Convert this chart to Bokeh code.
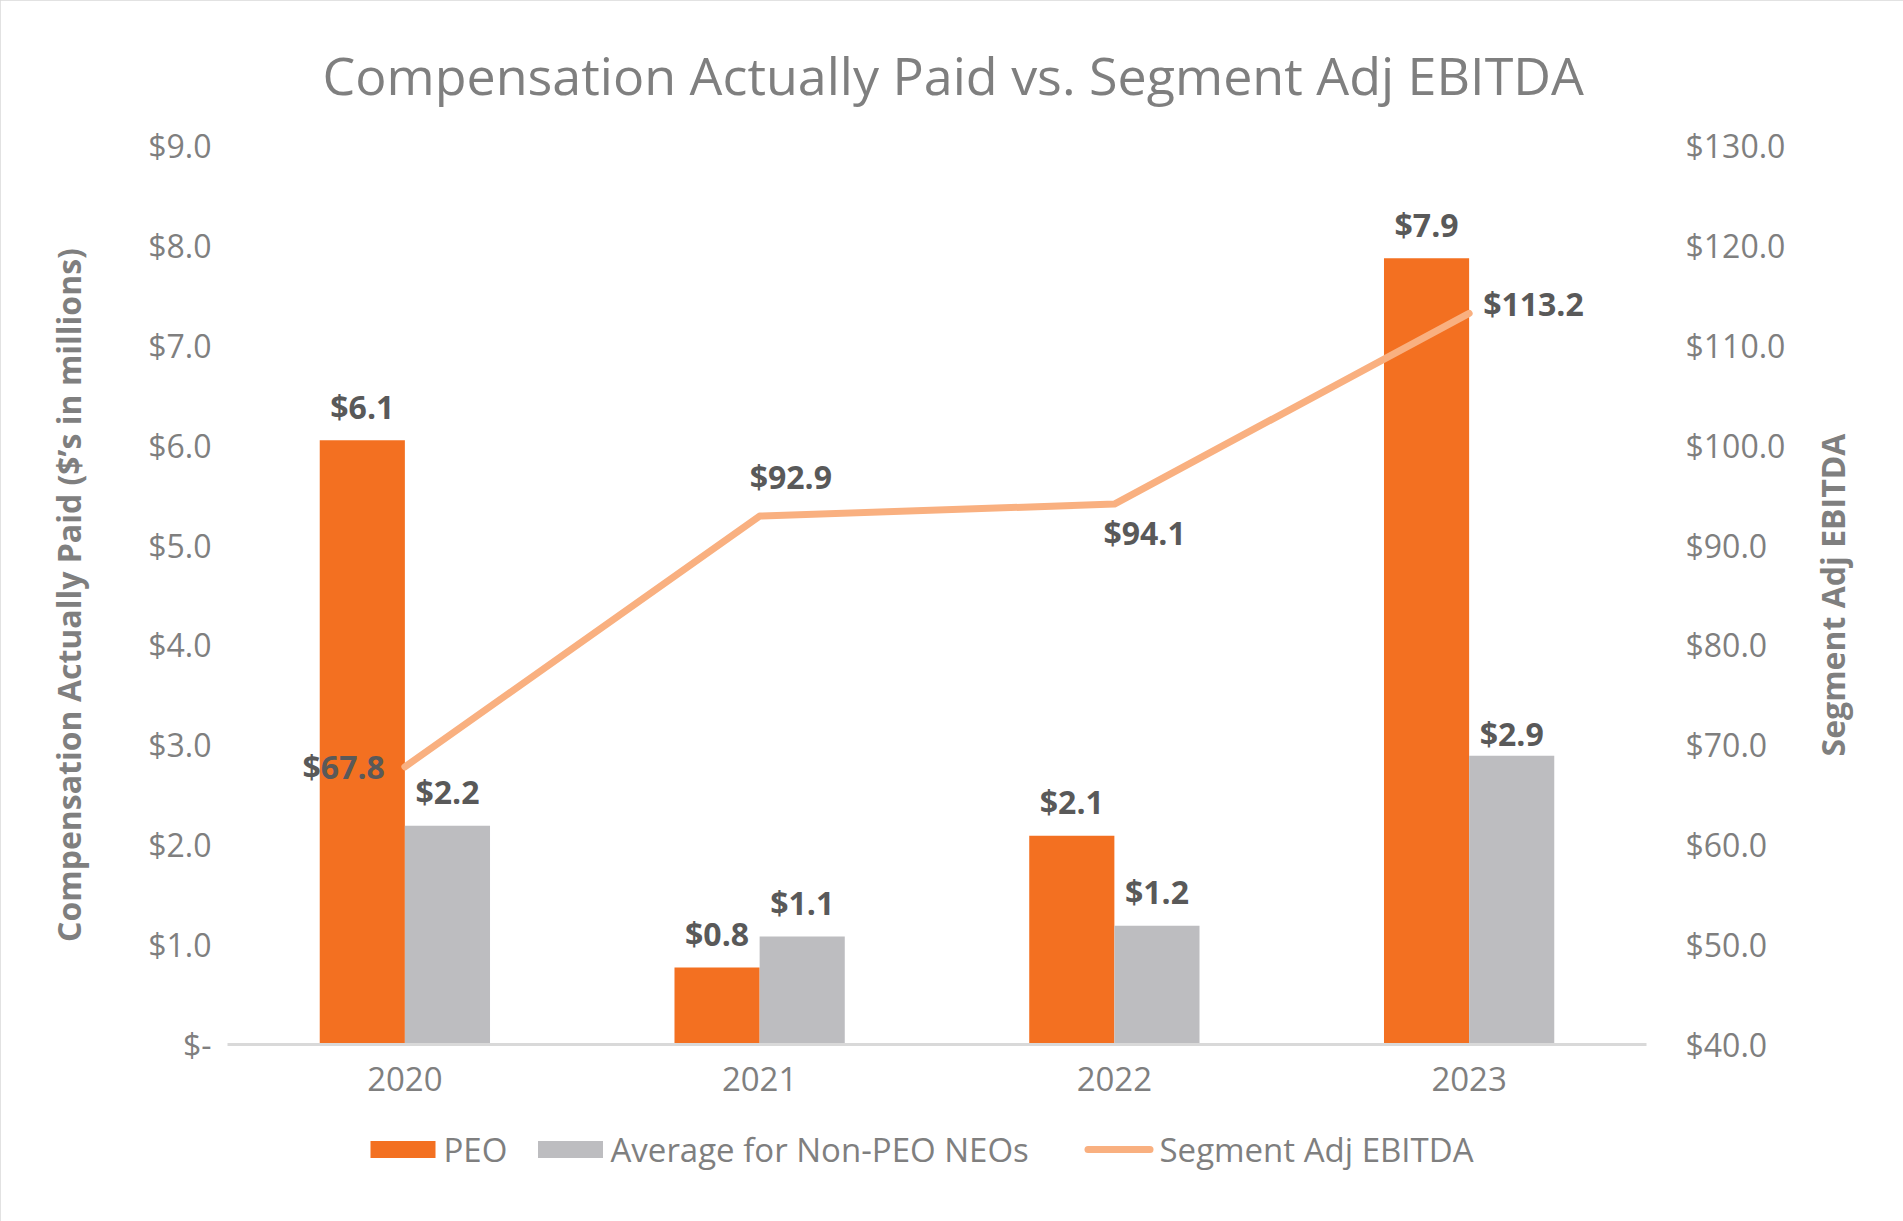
import math
from bokeh.plotting import figure
from bokeh.models import (FactorRange, Range1d, LinearAxis, FixedTicker, ColumnDataSource)
from bokeh.transform import dodge
from bokeh.core.properties import value
from bokeh.embed import file_html
from bokeh.resources import INLINE

# ---------------- data ----------------
years = ["2020", "2021", "2022", "2023"]
peo = [6.05, 0.77, 2.09, 7.87]
non_peo = [2.19, 1.08, 1.19, 2.89]
ebitda = [67.8, 92.9, 94.1, 113.2]
peo_labels = ["$6.1", "$0.8", "$2.1", "$7.9"]
non_peo_labels = ["$2.2", "$1.1", "$1.2", "$2.9"]
ebitda_labels = ["$67.8", "$92.9", "$94.1", "$113.2"]
left_ticks = [0, 1, 2, 3, 4, 5, 6, 7, 8, 9]
left_tick_labels = ["$-", "$1.0", "$2.0", "$3.0", "$4.0", "$5.0", "$6.0", "$7.0", "$8.0", "$9.0"]
right_ticks = [40, 50, 60, 70, 80, 90, 100, 110, 120, 130]
right_tick_labels = ["$40.0", "$50.0", "$60.0", "$70.0", "$80.0", "$90.0",
                     "$100.0", "$110.0", "$120.0", "$130.0"]
series_names = ["PEO", "Average for Non-PEO NEOs", "Segment Adj EBITDA"]
left_axis_title = "Compensation Actually Paid ($\u2019s in millions)"
right_axis_title = "Segment Adj EBITDA"
chart_title = "Compensation Actually Paid vs. Segment Adj EBITDA"

# ---------------- styles / layout ----------------
FONT = "Open Sans"
ORANGE = "#F37021"
GRAY = "#BDBDC0"
LINE = "#F9B080"
TXT = "#7F7F7F"
LBL = "#595959"

FRAME_LEFT, FRAME_TOP, FRAME_W, FRAME_H = 227, 145, 1419, 899
FRAME_BOTTOM = FRAME_TOP + FRAME_H
Y_MAX = 9.0

peo_label_dy = [-34, -34, -34, -34]
non_peo_label_dy = [-34, -34, -34, -22]
line_label_dx = [-20, -10, -11, 14]
line_label_dy = [0, -40, 28, -10]
line_label_align = ["right", "left", "left", "left"]

# legend layout in canvas pixels
legend_y_px = 1149
legend_swatch_px = [402.5, 570]
legend_line_px = [1087.5, 1149.5]
legend_text_px = [443, 610, 1159]


def sx(px):
    """canvas px -> synthetic categorical x"""
    return (px - FRAME_LEFT) / (FRAME_W / len(years))


def sy(py):
    """canvas px -> left-axis data y"""
    return (FRAME_BOTTOM - py) / (FRAME_H / Y_MAX)


src = ColumnDataSource(dict(year=years, peo=peo, non_peo=non_peo, ebitda=ebitda,
                            peo_label=peo_labels, non_peo_label=non_peo_labels,
                            peo_dy=peo_label_dy, non_peo_dy=non_peo_label_dy))

p = figure(frame_width=FRAME_W, frame_height=FRAME_H,
           x_range=FactorRange(*years, range_padding=0),
           y_range=Range1d(0, Y_MAX), output_backend="svg", toolbar_location=None,
           min_border_left=FRAME_LEFT, min_border_right=1903 - FRAME_LEFT - FRAME_W,
           min_border_top=FRAME_TOP, min_border_bottom=1221 - FRAME_BOTTOM)
p.x_range.range_padding = 0
p.extra_y_ranges = {"ebitda": Range1d(40, 130)}
p.outline_line_color = None
p.xgrid.visible = False
p.ygrid.visible = False
p.background_fill_color = "white"
p.border_fill_color = "white"
p.styles = {"outline": "3px solid #D9D9D9", "outline-offset": "-3px"}

# title
p.title.text = chart_title
p.title.align = "left"
p.title.offset = 95
p.title.text_font = FONT
p.title.text_font_size = "52px"
p.title.text_font_style = "normal"
p.title.text_color = TXT
p.title.standoff = 72

# bars
r_peo = p.vbar(x=dodge("year", -0.12, range=p.x_range), top="peo", width=0.24,
               source=src, fill_color=ORANGE, line_color=None)
r_non = p.vbar(x=dodge("year", 0.12, range=p.x_range), top="non_peo", width=0.24,
               source=src, fill_color=GRAY, line_color=None)

# line
r_line = p.line(x="year", y="ebitda", source=src, y_range_name="ebitda",
                line_color=LINE, line_width=7, line_cap="round", line_join="round")

# bar labels
for col, lab, dy, off in (("peo", "peo_label", "peo_dy", -0.12),
                          ("non_peo", "non_peo_label", "non_peo_dy", 0.12)):
    p.text(x=dodge("year", off, range=p.x_range), y=col, text=lab, source=src,
           text_align="center", text_baseline="alphabetic", y_offset=dy,
           text_font=value(FONT), text_font_size="32px", text_font_style="bold",
           text_color=LBL)

# line labels
for i in range(len(years)):
    p.text(x=[years[i]], y=[ebitda[i]], text=[ebitda_labels[i]], y_range_name="ebitda",
           x_offset=line_label_dx[i], y_offset=line_label_dy[i],
           text_align=line_label_align[i], text_baseline="middle",
           text_font=value(FONT), text_font_size="32px", text_font_style="bold",
           text_color=LBL)

# x axis
xa = p.xaxis[0]
xa.axis_line_color = "#D9D9D9"
xa.axis_line_width = 3
xa.major_tick_line_color = None
xa.minor_tick_line_color = None
xa.major_label_text_font = FONT
xa.major_label_text_font_size = "33px"
xa.major_label_text_color = TXT
xa.major_label_standoff = 16

# left y axis
ya = p.yaxis[0]
ya.ticker = FixedTicker(ticks=left_ticks)
ya.major_label_overrides = dict(zip(left_ticks, left_tick_labels))
ya.axis_line_color = None
ya.major_tick_line_color = None
ya.minor_tick_line_color = None
ya.major_label_text_font = FONT
ya.major_label_text_font_size = "32px"
ya.major_label_text_color = TXT
ya.major_label_standoff = 10
ya.axis_label = left_axis_title
ya.axis_label_text_font = FONT
ya.axis_label_text_font_size = "32px"
ya.axis_label_text_font_style = "bold"
ya.axis_label_text_color = TXT
ya.axis_label_standoff = 55

# right y axis (ticks); its title drawn as rotated text reading upward
ra = LinearAxis(y_range_name="ebitda", ticker=FixedTicker(ticks=right_ticks),
                major_label_overrides=dict(zip(right_ticks, right_tick_labels)))
ra.axis_line_color = None
ra.major_tick_line_color = None
ra.minor_tick_line_color = None
ra.major_label_text_font = FONT
ra.major_label_text_font_size = "32px"
ra.major_label_text_color = TXT
ra.major_label_standoff = 33
p.add_layout(ra, "right")

p.text(x=[years[-1]], y=[85], text=[right_axis_title], y_range_name="ebitda",
       x_offset=363, angle=math.pi / 2, text_align="center", text_baseline="middle",
       text_font=value(FONT), text_font_size="32px", text_font_style="bold",
       text_color=TXT, level="overlay")

# legend (drawn below the axis, outside the frame)
ly = sy(legend_y_px)
p.rect(x=[sx(v) for v in legend_swatch_px], y=[ly, ly], width=65, height=17,
       width_units="screen", height_units="screen", fill_color=[ORANGE, GRAY],
       line_color=None, level="overlay")
p.line(x=[sx(v) for v in legend_line_px], y=[ly, ly], line_color=LINE, line_width=7,
       line_cap="round", level="overlay")
p.text(x=[sx(v) for v in legend_text_px], y=[ly] * 3, text=series_names,
       text_align="left", text_baseline="middle", text_font=value(FONT),
       text_font_size="33px", text_color=TXT, level="overlay")

open("out.html", "w").write(file_html(p, INLINE))
